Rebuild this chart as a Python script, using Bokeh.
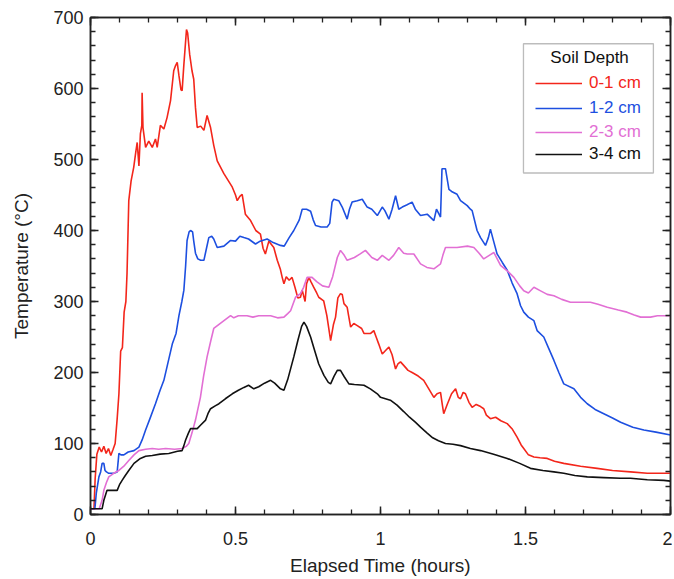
from bokeh.plotting import figure
from bokeh.models import (Range1d, LinearAxis, SingleIntervalTicker, Legend,
                          LegendItem, BoxAnnotation, Label, CustomJSTickFormatter)
from bokeh.embed import file_html
from bokeh.resources import INLINE

FONT = "Liberation Sans"

series_names = ["0-1 cm", "1-2 cm", "2-3 cm", "3-4 cm"]
series_colors = ["#f3261b", "#1d4fe0", "#e26fd4", "#111111"]
legend_title = "Soil Depth"
x_ticks = [0, 0.5, 1, 1.5, 2]
x_tick_labels = ["0", "0.5", "1", "1.5", "2"]

red_x = [0, 0.012, 0.016, 0.022, 0.03, 0.038, 0.046, 0.054, 0.062, 0.07, 0.078, 0.085, 0.092, 0.098,
         0.104, 0.11, 0.116, 0.122, 0.126, 0.132, 0.14, 0.149, 0.156, 0.161, 0.167, 0.172, 0.177, 0.178,
         0.181, 0.19, 0.201, 0.213, 0.224, 0.23, 0.241, 0.253, 0.264, 0.276, 0.287, 0.293, 0.299, 0.305,
         0.312, 0.316, 0.322, 0.331, 0.335, 0.342, 0.35, 0.356, 0.362, 0.368, 0.38, 0.391, 0.402, 0.414,
         0.425, 0.437, 0.46, 0.489, 0.5, 0.506, 0.515, 0.523, 0.534, 0.552, 0.57, 0.586, 0.595, 0.603,
         0.615, 0.632, 0.644, 0.655, 0.661, 0.667, 0.675, 0.685, 0.695, 0.705, 0.715, 0.724, 0.73, 0.74,
         0.745, 0.753, 0.76, 0.77, 0.78, 0.787, 0.804, 0.815, 0.828, 0.838, 0.845, 0.853, 0.862, 0.868,
         0.874, 0.885, 0.89, 0.897, 0.908, 0.92, 0.935, 0.943, 0.954, 0.966, 0.977, 0.985, 0.994, 1.006,
         1.015, 1.029, 1.04, 1.052, 1.06, 1.069, 1.08, 1.095, 1.109, 1.13, 1.149, 1.165, 1.184, 1.195,
         1.207, 1.213, 1.218, 1.23, 1.245, 1.259, 1.268, 1.276, 1.285, 1.293, 1.305, 1.316, 1.33, 1.345,
         1.356, 1.365, 1.379, 1.397, 1.415, 1.437, 1.455, 1.471, 1.485, 1.494, 1.51, 1.529, 1.55, 1.575,
         1.6, 1.632, 1.69, 1.747, 1.8, 1.862, 1.92, 1.977, 2.0]
red_y = [8, 8, 50, 85, 95, 88, 96, 86, 93, 83, 92, 100, 135, 170,
         230, 235, 285, 300, 340, 442, 470, 489, 510, 524, 491, 536, 548, 594,
         545, 517, 526, 517, 529, 517, 548, 543, 559, 583, 625, 632, 637, 618,
         598, 597, 634, 683, 678, 648, 625, 613, 573, 545, 547, 541, 562, 545,
         520, 498, 480, 461, 450, 442, 448, 451, 423, 414, 400, 395, 375, 367,
         385, 376, 358, 345, 334, 325, 335, 330, 334, 320, 305, 306, 316, 300,
         325, 334, 328, 320, 312, 306, 301, 280, 245, 268, 278, 305, 311, 310,
         297, 292, 280, 264, 269, 266, 262, 255, 255, 255, 259, 250, 240, 226,
         230, 236, 225, 205, 212, 215, 210, 203, 200, 195, 189, 178, 165, 170,
         172, 155, 142, 155, 170, 177, 165, 163, 172, 170, 158, 151, 155, 152,
         149, 140, 135, 137, 132, 128, 120, 109, 98, 93, 84, 81, 80, 79,
         75, 72, 68, 65, 62, 60, 58, 58, 58]

blue_x = [0, 0.015, 0.02, 0.029, 0.035, 0.04, 0.046, 0.05, 0.055, 0.063, 0.08, 0.092, 0.098, 0.105,
          0.115, 0.13, 0.15, 0.167, 0.178, 0.19, 0.205, 0.224, 0.24, 0.253, 0.265, 0.282, 0.295, 0.305,
          0.315, 0.322, 0.328, 0.333, 0.34, 0.345, 0.352, 0.356, 0.362, 0.37, 0.38, 0.391, 0.4, 0.408,
          0.418, 0.425, 0.437, 0.46, 0.483, 0.5, 0.515, 0.529, 0.545, 0.569, 0.585, 0.609, 0.63, 0.655,
          0.668, 0.685, 0.701, 0.72, 0.73, 0.745, 0.759, 0.768, 0.776, 0.795, 0.816, 0.825, 0.833, 0.839,
          0.856, 0.868, 0.885, 0.893, 0.902, 0.92, 0.937, 0.954, 0.97, 0.989, 1.006, 1.015, 1.029, 1.04,
          1.052, 1.063, 1.075, 1.09, 1.109, 1.12, 1.138, 1.161, 1.184, 1.193, 1.207, 1.212, 1.224, 1.236,
          1.245, 1.264, 1.276, 1.299, 1.31, 1.316, 1.333, 1.345, 1.362, 1.372, 1.379, 1.39, 1.402, 1.42,
          1.437, 1.454, 1.471, 1.483, 1.494, 1.51, 1.529, 1.54, 1.563, 1.58, 1.598, 1.615, 1.632, 1.667,
          1.69, 1.713, 1.74, 1.77, 1.8, 1.828, 1.87, 1.908, 1.95, 2.0]
blue_y = [8, 8, 30, 53, 60, 72, 72, 62, 60, 58, 58, 60, 86, 84,
          84, 88, 90, 95, 105, 119, 135, 156, 175, 189, 210, 240, 255, 280,
          300, 316, 350, 386, 398, 400, 398, 385, 368, 360, 358, 358, 375, 390,
          392, 388, 376, 378, 386, 385, 392, 390, 388, 381, 385, 388, 383, 379,
          378, 390, 400, 415, 430, 430, 427, 415, 407, 405, 405, 410, 440, 444,
          442, 433, 416, 430, 440, 442, 444, 433, 430, 421, 433, 428, 416, 430,
          449, 430, 433, 436, 440, 430, 421, 423, 414, 430, 419, 487, 487, 458,
          455, 451, 442, 435, 430, 428, 400, 390, 379, 390, 402, 385, 367, 355,
          344, 326, 311, 294, 285, 278, 273, 259, 250, 234, 217, 200, 184, 177,
          165, 156, 148, 142, 136, 130, 123, 119, 116, 112]

pink_x = [0, 0.03, 0.04, 0.046, 0.055, 0.063, 0.08, 0.098, 0.115, 0.132, 0.15, 0.167, 0.19, 0.213,
          0.235, 0.259, 0.29, 0.316, 0.33, 0.339, 0.35, 0.362, 0.37, 0.379, 0.39, 0.402, 0.415, 0.425,
          0.45, 0.483, 0.494, 0.51, 0.54, 0.56, 0.58, 0.621, 0.645, 0.667, 0.68, 0.69, 0.707, 0.724,
          0.735, 0.747, 0.764, 0.78, 0.8, 0.822, 0.835, 0.851, 0.862, 0.875, 0.885, 0.91, 0.93, 0.948,
          0.97, 0.989, 1.006, 1.029, 1.045, 1.063, 1.08, 1.092, 1.115, 1.138, 1.16, 1.184, 1.207, 1.215,
          1.224, 1.264, 1.3, 1.322, 1.34, 1.356, 1.375, 1.391, 1.414, 1.44, 1.46, 1.48, 1.494, 1.51,
          1.529, 1.552, 1.575, 1.598, 1.625, 1.655, 1.69, 1.724, 1.75, 1.782, 1.82, 1.85, 1.875, 1.897,
          1.931, 1.955, 2.0]
pink_y = [8, 8, 20, 34, 45, 53, 58, 62, 68, 76, 84, 90, 92, 93,
          92, 93, 92, 93, 96, 100, 115, 133, 148, 165, 195, 222, 245, 262,
          270, 280, 277, 280, 280, 278, 280, 280, 277, 278, 283, 287, 306, 311,
          320, 334, 334, 328, 322, 320, 335, 362, 372, 365, 358, 362, 367, 372,
          362, 358, 365, 358, 365, 376, 368, 367, 367, 353, 348, 346, 353, 365,
          376, 376, 378, 376, 368, 360, 365, 369, 351, 342, 334, 322, 315, 312,
          320, 315, 310, 308, 303, 299, 299, 299, 296, 292, 288, 285, 281, 278,
          278, 280, 280]

black_x = [0, 0.04, 0.046, 0.057, 0.092, 0.1, 0.109, 0.12, 0.132, 0.15, 0.172, 0.19, 0.213, 0.24,
           0.27, 0.3, 0.316, 0.322, 0.328, 0.338, 0.345, 0.368, 0.38, 0.397, 0.405, 0.414, 0.43, 0.443,
           0.465, 0.489, 0.51, 0.529, 0.545, 0.563, 0.58, 0.6, 0.621, 0.635, 0.655, 0.667, 0.68, 0.701,
           0.715, 0.728, 0.736, 0.745, 0.759, 0.77, 0.787, 0.805, 0.82, 0.828, 0.84, 0.851, 0.862, 0.875,
           0.891, 0.91, 0.943, 0.965, 0.989, 1.0, 1.034, 1.057, 1.08, 1.1, 1.12, 1.138, 1.16, 1.18,
           1.2, 1.224, 1.25, 1.276, 1.31, 1.345, 1.39, 1.437, 1.48, 1.517, 1.56, 1.598, 1.632, 1.67,
           1.713, 1.77, 1.828, 1.862, 1.92, 1.977, 2.0]
black_y = [8, 8, 20, 34, 34, 42, 48, 55, 62, 72, 79, 82, 83, 85,
           86, 89, 90, 97, 105, 115, 121, 121, 126, 133, 142, 149, 153, 156,
           163, 170, 175, 179, 182, 177, 180, 185, 189, 185, 177, 175, 190, 222,
           245, 265, 271, 265, 250, 235, 212, 196, 186, 184, 195, 203, 203, 194,
           184, 183, 182, 177, 170, 165, 161, 154, 145, 137, 130, 123, 115, 108,
           104, 100, 99, 97, 93, 90, 85, 79, 72, 65, 62, 60, 58, 55,
           53, 52, 51, 51, 49, 48, 47]

series_x = [red_x, blue_x, pink_x, black_x]
series_y = [red_y, blue_y, pink_y, black_y]

AX = "#222222"

p = figure(width=672, height=579, output_backend="svg", toolbar_location=None,
           x_range=Range1d(0, 2), y_range=Range1d(0, 700),
           min_border_left=90, min_border_right=2, min_border_top=17, min_border_bottom=65,
           x_axis_label="Elapsed Time (hours)", y_axis_label="Temperature (°C)")
p.xgrid.visible = False
p.ygrid.visible = False
p.outline_line_color = AX
p.outline_line_width = 1.5
p.background_fill_color = "white"
p.border_fill_color = "white"


def style_axis(ax, labels=True):
    ax.axis_line_color = AX
    ax.axis_line_width = 1.5
    ax.major_tick_line_color = AX
    ax.minor_tick_line_color = AX
    ax.major_tick_line_width = 1.5
    ax.minor_tick_line_width = 1.3
    ax.major_tick_in = 8
    ax.major_tick_out = 0
    ax.minor_tick_in = 5
    ax.minor_tick_out = 0
    ax.major_label_text_font = FONT
    ax.major_label_text_color = "#222222"
    ax.axis_label_text_font = FONT
    ax.axis_label_text_font_style = "normal"
    ax.axis_label_text_color = "#222222"
    if not labels:
        ax.formatter = CustomJSTickFormatter(code="return ''")
        ax.major_label_standoff = 0


xa = p.xaxis[0]
xa.ticker = SingleIntervalTicker(interval=0.5, num_minor_ticks=5)
style_axis(xa)
xa.major_label_text_font_size = "18px"
xa.axis_label_text_font_size = "19px"
xa.major_label_standoff = 17
xa.axis_label_standoff = 7
xa.major_label_overrides = {float(t): s for t, s in zip(x_ticks, x_tick_labels)}

ya = p.yaxis[0]
ya.ticker = SingleIntervalTicker(interval=100, num_minor_ticks=5)
style_axis(ya)
ya.major_label_text_font_size = "18px"
ya.axis_label_text_font_size = "19px"
ya.major_label_standoff = 7
ya.axis_label_standoff = 18

top_ax = LinearAxis(ticker=SingleIntervalTicker(interval=0.5, num_minor_ticks=5))
style_axis(top_ax, labels=False)
p.add_layout(top_ax, "above")
right_ax = LinearAxis(ticker=SingleIntervalTicker(interval=100, num_minor_ticks=5))
style_axis(right_ax, labels=False)
p.add_layout(right_ax, "right")

renderers = []
for xs, ys, c in zip(series_x, series_y, series_colors):
    r = p.line(xs, ys, line_color=c, line_width=1.6)
    renderers.append(r)

# legend frame
box = BoxAnnotation(left=1.493, right=1.941, bottom=481, top=663,
                    fill_color="white", fill_alpha=1.0, line_color="#222222", line_width=1.3)
p.add_layout(box)
p.add_layout(Label(x=1.721, y=643, text=legend_title, text_align="center",
                   text_baseline="middle", text_font=FONT, text_font_size="17px",
                   text_color="#111111"))

leg_y = [421, 396, 372, 350]
for name, c, r, ly in zip(series_names, series_colors, renderers, leg_y):
    leg = Legend(items=[LegendItem(label=name, renderers=[r])], location=(445, ly),
                 label_text_color=c, label_text_font=FONT, label_text_font_size="17px",
                 border_line_color=None, background_fill_alpha=0, padding=0, margin=0,
                 spacing=0, glyph_width=47, glyph_height=20, label_height=20,
                 label_standoff=7)
    p.add_layout(leg)

open("out.html", "w").write(file_html(p, INLINE))
